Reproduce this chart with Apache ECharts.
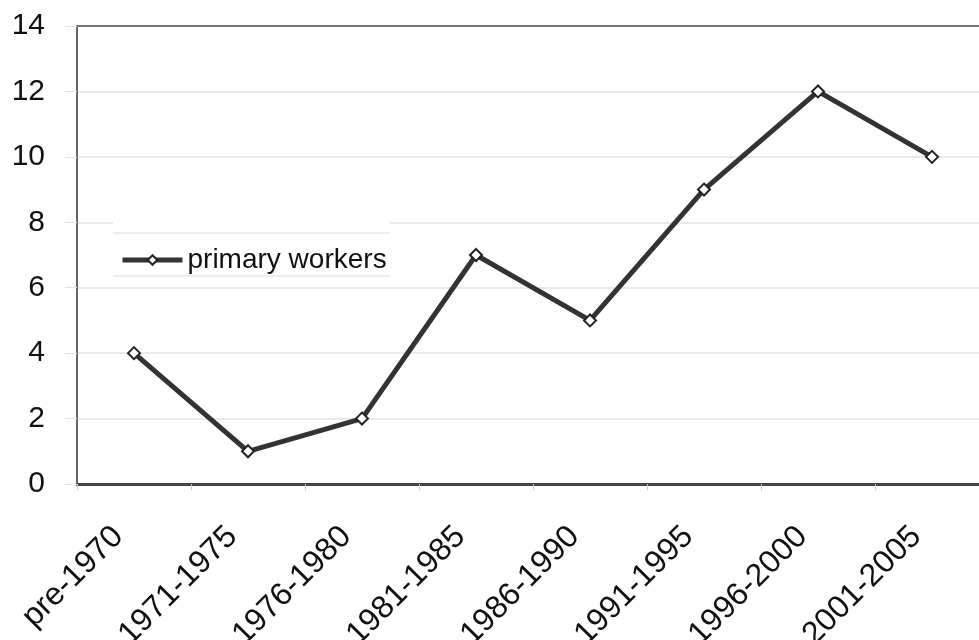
<!DOCTYPE html>
<html>
<head>
<meta charset="utf-8">
<script src="https://cdn.jsdelivr.net/npm/echarts@6/dist/echarts.min.js"></script>
<style>
  html, body { margin: 0; padding: 0; background: #fff; }
  #chart { width: 979px; height: 640px; }
</style>
</head>
<body>
<div id="chart"></div>
<script>
// periods on the x axis
const periods = ['pre-1970', '1971-1975', '1976-1980', '1981-1985', '1986-1990', '1991-1995', '1996-2000', '2001-2005'];
// number of primary workers per period
const primaryWorkers = [4, 1, 2, 7, 5, 9, 12, 10];
const yTicks = { min: 0, max: 14, step: 2 };

const chart = echarts.init(document.getElementById('chart'));

const option = {
  animation: false,
  backgroundColor: '#fff',
  textStyle: { fontFamily: 'Liberation Sans, Arial, sans-serif' },
  // plot runs a little past the right edge of the picture
  grid: { left: 77, top: 26, width: 912, height: 458, outerBoundsMode: 'none', containLabel: false },
  graphic: [
    // white box behind the legend, with thin top/bottom rules
    { type: 'rect', z: 1, shape: { x: 113, y: 219, width: 277, height: 64 }, style: { fill: '#fff' } },
    { type: 'line', z: 1, shape: { x1: 113, y1: 233, x2: 390, y2: 233 }, style: { stroke: '#dcdcdc', lineWidth: 1 } },
    { type: 'line', z: 1, shape: { x1: 113, y1: 276, x2: 390, y2: 276 }, style: { stroke: '#dcdcdc', lineWidth: 1 } }
  ],
  legend: {
    left: 115,
    top: 241,
    itemWidth: 60,
    itemHeight: 12,
    itemGap: 7,
    lineStyle: { color: '#333', width: 5 },
    textStyle: { fontSize: 28, color: '#111' },
    data: ['primary workers']
  },
  xAxis: [{
    type: 'category',
    data: periods,
    boundaryGap: true,
    axisLine: { lineStyle: { color: '#444', width: 3 } },
    axisTick: { show: true, length: 6, lineStyle: { color: '#ccc' } },
    axisLabel: { rotate: 45, margin: 32, padding: [0, 22, 0, 0], fontSize: 32, color: '#111', interval: 0 },
    splitLine: { show: false }
  }, {
    type: 'category',
    data: periods,
    position: 'top',
    axisLine: { lineStyle: { color: '#777', width: 2 } },
    axisTick: { show: false },
    axisLabel: { show: false }
  }],
  yAxis: {
    type: 'value',
    min: yTicks.min,
    max: yTicks.max,
    interval: yTicks.step,
    axisLine: { show: true, lineStyle: { color: '#666', width: 2 } },
    axisTick: { show: true, length: 12, lineStyle: { color: '#e2e2e2' } },
    axisLabel: { fontSize: 30, color: '#111', margin: 32 },
    splitLine: { lineStyle: { color: '#e2e2e2', width: 1.5 } }
  },
  series: [{
    name: 'primary workers',
    type: 'line',
    data: primaryWorkers,
    symbol: 'diamond',
    symbolSize: 12,
    lineStyle: { color: '#333', width: 5 },
    itemStyle: { color: '#fff', borderColor: '#222', borderWidth: 2 },
    z: 3
  }]
};

chart.setOption(option);
</script>
</body>
</html>
